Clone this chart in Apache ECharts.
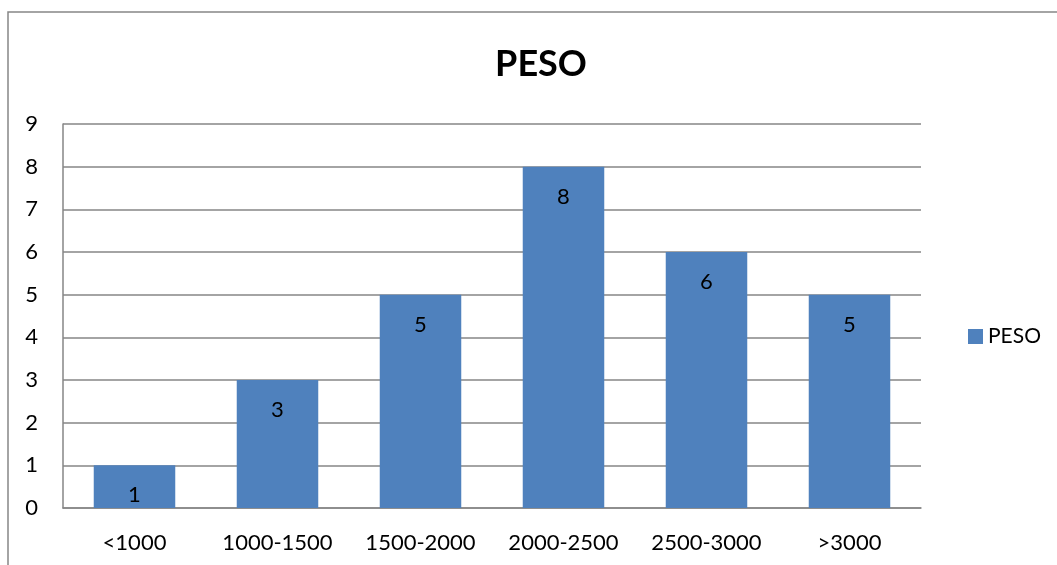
<!DOCTYPE html>
<html>
<head>
<meta charset="utf-8">
<style>
  html, body { margin: 0; padding: 0; background: #fff; }
  #chart { width: 1057px; height: 565px; }
</style>
<script src="https://cdn.jsdelivr.net/npm/echarts@6/dist/echarts.min.js"></script>
</head>
<body>
<div id="chart"></div>
<script>
// Weight classes and counts
const categories = ['<1000', '1000-1500', '1500-2000', '2000-2500', '2500-3000', '>3000'];
const pesoValues = [1, 3, 5, 8, 6, 5];
const seriesName = 'PESO';
const titleText = 'PESO';

const font = 'Lato, "Open Sans", "Liberation Sans", sans-serif';
const gray = '#868686';

const chart = echarts.init(document.getElementById('chart'), null, { renderer: 'canvas' });
chart.setOption({
  animation: false,
  backgroundColor: '#fff',
  title: {
    text: titleText,
    left: 536,
    top: 41,
    textAlign: 'center',
    textStyle: { fontFamily: font, fontSize: 36, fontWeight: 'bold', color: '#000' }
  },
  legend: {
    data: [seriesName],
    left: 963,
    top: 321,
    itemWidth: 15,
    itemHeight: 15,
    itemGap: 7,
    icon: 'rect',
    textStyle: { fontFamily: font, fontSize: 21, color: '#000' }
  },
  graphic: [{
    type: 'rect',
    shape: { x: 8, y: 12, width: 1200, height: 700 },
    style: { fill: 'none', stroke: gray, lineWidth: 1.5 },
    silent: true,
    z: -1
  }],
  grid: { left: 63, right: 136, top: 124, bottom: 57, containLabel: false },
  xAxis: {
    type: 'category',
    data: categories,
    axisLine: { show: true, lineStyle: { color: gray, width: 1.5 } },
    axisTick: { show: false },
    axisLabel: { interval: 0, hideOverlap: false, fontFamily: font, fontSize: 22, color: '#000', margin: 24 }
  },
  yAxis: {
    type: 'value',
    min: 0,
    max: 9,
    interval: 1,
    axisLine: { show: true, lineStyle: { color: gray, width: 1.5 } },
    axisTick: { show: false },
    axisLabel: { fontFamily: font, fontSize: 22, color: '#000', margin: 25 },
    splitLine: { show: true, lineStyle: { color: gray, width: 1.5 } }
  },
  series: [{
    name: seriesName,
    type: 'bar',
    data: pesoValues,
    barWidth: '57%',
    itemStyle: { color: '#4F81BD' },
    label: {
      show: true,
      position: 'insideTop',
      distance: 19,
      fontFamily: font,
      fontSize: 22,
      color: '#000'
    }
  }]
});
</script>
</body>
</html>
